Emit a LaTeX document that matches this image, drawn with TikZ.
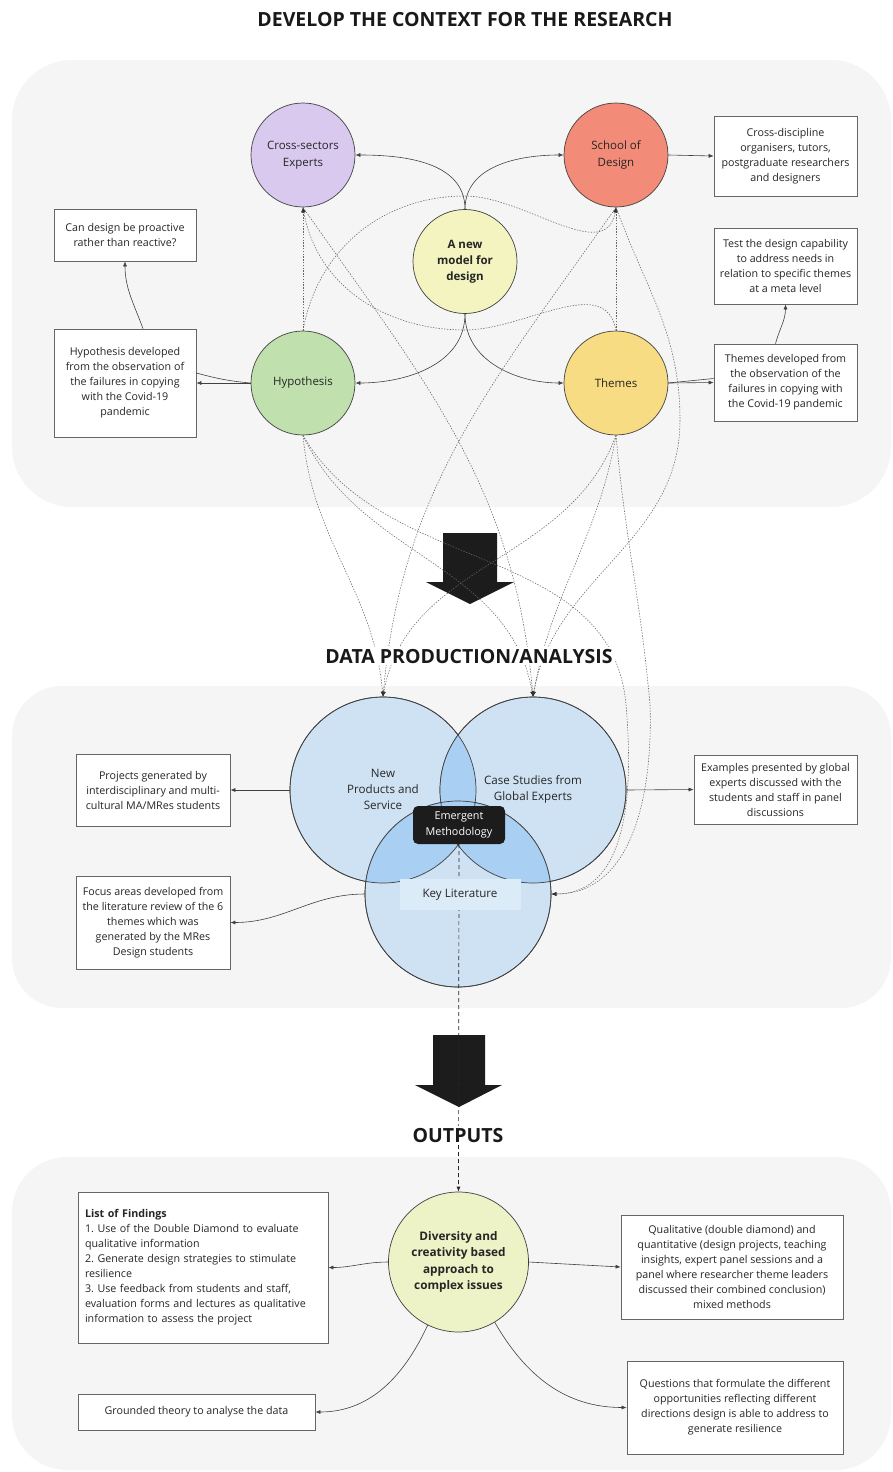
\documentclass[tikz,border=0pt]{standalone}
\usepackage{fontspec}
\setmainfont{Open Sans}
\usetikzlibrary{arrows.meta}

\definecolor{panelgrey}{HTML}{F5F5F5}
\definecolor{lavender}{HTML}{D9C9EF}
\definecolor{salmon}{HTML}{F28B78}
\definecolor{paleyellow}{HTML}{F4F4C1}
\definecolor{sage}{HTML}{C0E0AE}
\definecolor{sand}{HTML}{F7DC84}
\definecolor{vennlight}{HTML}{CFE2F3}
\definecolor{venndark}{HTML}{A9CFF2}
\definecolor{keylitbg}{HTML}{DCEBF8}
\definecolor{lime}{HTML}{EEF2C7}
\definecolor{arrowblack}{HTML}{1C1C1C}

\begin{document}
\begin{tikzpicture}[x=1pt, y=1pt,
    bubble/.style={circle, draw=black!75, line width=0.7pt, minimum size=104pt,
        inner sep=0pt, align=center, text=black!85, font=\fontsize{11.5}{16.5}\selectfont},
    notebox/.style={rectangle, draw=black!60, line width=0.7pt, fill=white,
        align=center, inner sep=3pt, text=black!85, font=\fontsize{10.7}{15}\selectfont\frenchspacing},
    vennring/.style={circle, draw=black!75, line width=0.7pt, fill=vennlight,
        minimum size=186pt, inner sep=0pt},
    venntext/.style={align=center, text=black!85, font=\fontsize{11.6}{16}\selectfont},
    heading/.style={fill=white, inner sep=2pt, text=black!90, anchor=base,
        font=\fontsize{19.5}{22}\selectfont\bfseries},
    solidlink/.style={draw=black!75, line width=0.6pt, -{Latex[length=5pt,width=4pt]}},
    dotlink/.style={draw=black!60, line width=0.55pt, dash pattern=on 1.4pt off 1.4pt,
        -{Latex[length=5pt,width=4pt,color=black!80]}},
    dashlink/.style={draw=black!85, line width=0.7pt, dash pattern=on 4pt off 3pt,
        -{Latex[length=5pt,width=4pt]}},
    backpanel/.style={fill=panelgrey}]
    \useasboundingbox (0,0) rectangle (893,-1472);

    % waypoints of the dotted routes
    \coordinate (W1) at (465,-196);
    \coordinate (W2) at (465,-330);
    \coordinate (W3) at (680,-420);
    \coordinate (W4) at (626,-705);
    \coordinate (W5) at (650,-705);

    \fill[backpanel, rounded corners=60pt] (12,-60) rectangle (891,-507); % context
    \fill[backpanel, rounded corners=50pt] (12,-686) rectangle (891,-1008); % data
    \fill[backpanel, rounded corners=55pt] (12,-1157) rectangle (891,-1470); % outputs

    \fill[arrowblack] (443,-533) -- (497,-533) -- (497,-582) -- (514,-582) -- (470,-604)
        -- (426,-582) -- (443,-582) -- cycle; % first arrow
    \fill[arrowblack] (433,-1035) -- (485,-1035) -- (485,-1085) -- (502,-1085) -- (459,-1107)
        -- (415,-1085) -- (433,-1085) -- cycle; % second arrow

    % context
    \node[bubble, fill=lavender] (exp) at (303,-155) {Cross-sectors\\Experts};
    \node[bubble, fill=salmon] (sch) at (616,-155) {School of\\Design};
    \node[bubble, fill=paleyellow, font=\fontsize{11.5}{16}\selectfont\bfseries] (model) at (465,-261.5) {A new\\model for\\design};
    \node[bubble, fill=sage] (hyp) at (303,-383) {Hypothesis};
    \node[bubble, fill=sand] (them) at (616,-383) {Themes};

    \node[notebox, minimum width=143pt, minimum height=80pt] (orgbox) at (785.5,-156)
        {Cross-discipline\\organisers, tutors,\\postgraduate researchers\\and designers};
    \node[notebox, minimum width=143pt, minimum height=76pt] (testbox) at (785.5,-266)
        {Test the design capability\\to address needs in\\relation to specific themes\\at a meta level};
    \node[notebox, minimum width=143pt, minimum height=77pt] (thbox) at (785.5,-382.5)
        {Themes developed from\\the observation of the\\failures in copying with\\the Covid-19 pandemic};
    \node[notebox, minimum width=142pt, minimum height=52pt] (canbox) at (125,-235)
        {Can design be proactive\\rather than reactive?};
    \node[notebox, minimum width=142pt, minimum height=108pt] (hypbox) at (125,-383)
        {Hypothesis developed\\from the observation of\\the failures in copying\\with the Covid-19\\pandemic};

    % data production
    \node[vennring] (newp) at (383,-790) {};
    \node[vennring] (case) at (533,-790) {};
    \node[vennring] (keylit) at (458,-894) {};
    \begin{scope}
        \clip (newp.center) circle[radius=93];
        \fill[venndark] (case.center) circle[radius=93];
        \fill[venndark] (keylit.center) circle[radius=93];
    \end{scope}
    \begin{scope}
        \clip (case.center) circle[radius=93];
        \fill[venndark] (keylit.center) circle[radius=93];
    \end{scope}
    \draw[black!75, line width=0.7pt] (newp.center) circle[radius=93]
        (case.center) circle[radius=93] (keylit.center) circle[radius=93];
    \node[venntext] (newptxt) at (383,-789) {New\\Products and\\Service};
    \node[venntext] (casetxt) at (533,-789) {Case Studies from\\Global Experts};

    \node[notebox, minimum width=154pt, minimum height=72pt] (projbox) at (153,-790)
        {Projects generated by\\interdisciplinary and multi-\\cultural MA/MRes students};
    \node[notebox, minimum width=154pt, minimum height=93pt] (focusbox) at (153,-922.5)
        {Focus areas developed from\\the literature review of the 6\\themes which was\\generated by the MRes\\Design students};
    \node[notebox, minimum width=163pt, minimum height=69pt] (exbox) at (775.5,-789.5)
        {Examples presented by global\\experts discussed with the\\students and staff in panel\\discussions};

    % outputs
    \node[bubble, fill=lime, minimum size=140pt, font=\fontsize{11.8}{16.3}\selectfont\bfseries] (div) at (458.5,-1262)
        {Diversity and\\creativity based\\approach to\\complex issues};
    \node[notebox, align=left, text width=236pt, inner sep=7pt, minimum height=151pt] (findbox) at (203,-1267.5)
        {\textbf{List of Findings}\\1. Use of the Double Diamond to evaluate\\qualitative information\\2. Generate design strategies to stimulate\\resilience\\3. Use feedback from students and staff,\\evaluation forms and lectures as qualitative\\information to assess the project};
    \node[notebox, minimum width=237pt, minimum height=36pt] (groundbox) at (196.5,-1412)
        {Grounded theory to analyse the data};
    \node[notebox, minimum width=222pt, minimum height=104pt] (qualbox) at (732,-1267)
        {Qualitative (double diamond) and\\quantitative (design projects, teaching\\insights, expert panel sessions and a\\panel where researcher theme leaders\\discussed their combined conclusion)\\mixed methods};
    \node[notebox, minimum width=216pt, minimum height=93pt] (qbox) at (735,-1407.5)
        {Questions that formulate the different\\opportunities reflecting different\\directions design is able to address to\\generate resilience};

    \node[fill=arrowblack, rounded corners=5pt, minimum width=92pt, minimum height=38pt, inner sep=0pt,
        align=center, text=white, font=\fontsize{10.8}{16}\selectfont] (emerg) at (459,-825) {Emergent\\Methodology};
    \draw[dashlink] (emerg.south) -- (div.north); % down to outputs
    \node[fill=keylitbg, minimum width=121pt, minimum height=31pt, text=black!85,
        font=\fontsize{11.6}{16}\selectfont] (keytxt) at (460,-894.5) {Key Literature};

    % dotted routes
    \draw[dotlink] (hyp.north) -- (exp.south);
    \draw[dotlink] (them.north) -- (sch.south);
    \draw[dotlink] (hyp.north) to[out=80, in=180] (W1) to[out=0, in=-100] (sch.south); % over
    \draw[dotlink] (them.north) to[out=100, in=0] (W2) to[out=180, in=-80] (exp.south); % under
    \draw[dotlink] (exp.south) to[out=-55, in=95] (case.north);
    \draw[dotlink] (sch.south) to[out=-125, in=85] (newp.north);
    \draw[dotlink] (sch.south) to[out=-70, in=90] (W3) to[out=-90, in=80] (case.north);
    \draw[dotlink] (hyp.south) to[out=-85, in=95] (newp.north);
    \draw[dotlink] (hyp.south) to[out=-65, in=100] (case.north);
    \draw[dotlink] (hyp.south) to[out=-60, in=95] (W4) to[out=-85, in=0] (keylit.east);
    \draw[dotlink] (them.south) to[out=-110, in=80] (newp.north);
    \draw[dotlink] (them.south) to[out=-100, in=80] (case.north);
    \draw[dotlink] (them.south) to[out=-85, in=95] (W5) to[out=-88, in=0] (keylit.east);

    % solid links
    \draw[solidlink] (model.north) to[out=90, in=0] (exp.east);
    \draw[solidlink] (model.north) to[out=90, in=180] (sch.west);
    \draw[solidlink] (model.south) to[out=-90, in=0] (hyp.east);
    \draw[solidlink] (model.south) to[out=-90, in=180] (them.west);
    \draw[solidlink] (sch.east) -- (orgbox.west);
    \draw[solidlink] (them.east) -- (thbox.west);
    \draw[draw=black!75, line width=0.6pt] (them.east) -- ([yshift=4pt]thbox.west);
    \draw[solidlink] (hyp.west) -- (hypbox.east);
    \draw[draw=black!75, line width=0.6pt] (hyp.west) to[out=175, in=-15] ([yshift=10pt]hypbox.east);
    \draw[solidlink] ([xshift=-10pt]thbox.north) to[out=75, in=-90] (testbox.south);
    \draw[solidlink] ([xshift=18pt]hypbox.north) to[out=110, in=-90] (canbox.south);
    \draw[solidlink] (newp.west) -- (projbox.east);
    \draw[solidlink] (case.east) -- (exbox.west);
    \draw[solidlink] (keylit.west) to[out=180, in=0] (focusbox.east);
    \draw[solidlink] (div.west) to[out=180, in=0] (findbox.east);
    \draw[solidlink] (div.east) -- (qualbox.west);
    \draw[solidlink] (div.244) to[out=-115, in=0] (groundbox.east);
    \draw[solidlink] (div.-59) to[out=-60, in=180] (qbox.west);

    \node[heading] (title) at (465,-27) {DEVELOP THE CONTEXT FOR THE RESEARCH};
    \node[heading] (dataprod) at (469,-663) {DATA PRODUCTION/ANALYSIS};
    \node[heading] (outputs) at (458,-1142) {OUTPUTS};
\end{tikzpicture}
\end{document}
